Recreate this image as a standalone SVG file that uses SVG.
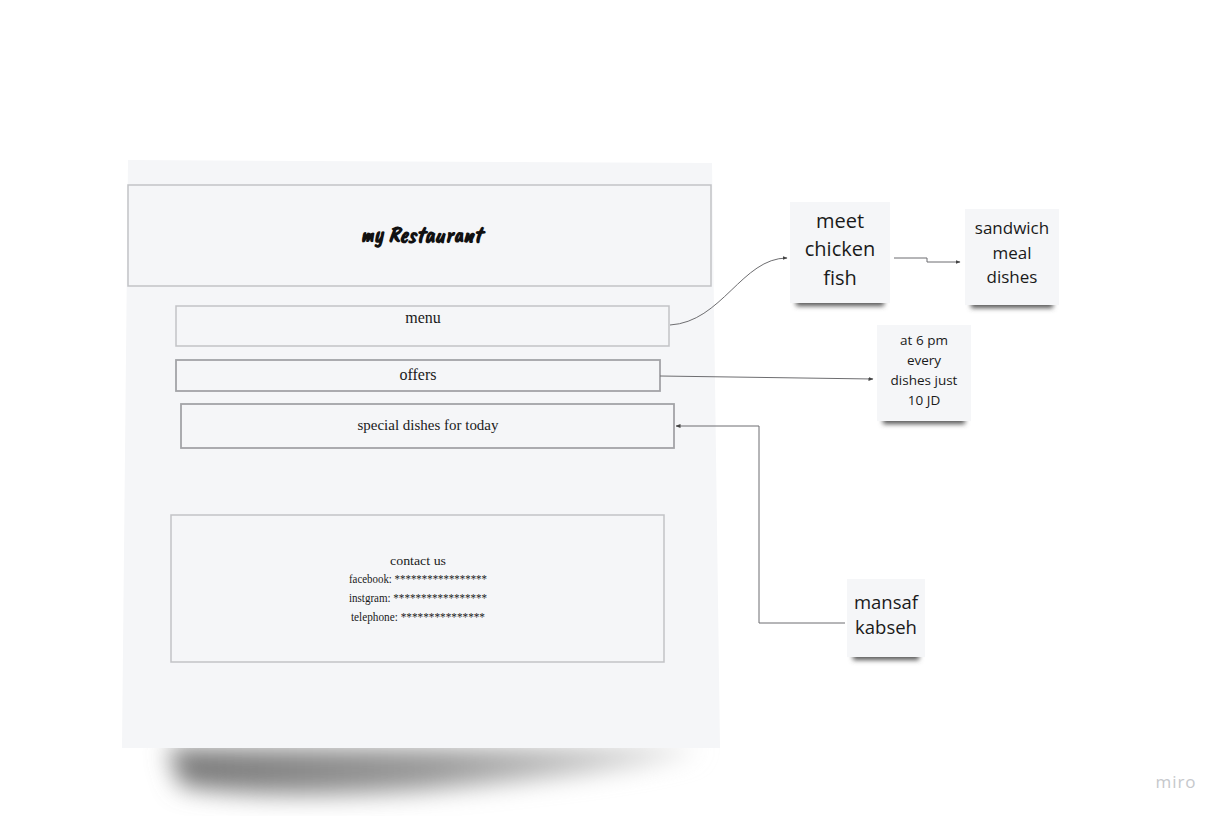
<svg xmlns="http://www.w3.org/2000/svg" width="1224" height="816" viewBox="0 0 1224 816">
<defs>
<style>
.box{fill:#f5f6f8;stroke:#c2c3c6;stroke-width:1.5}
.box2{fill:#f5f6f8;stroke:#a3a4a7;stroke-width:1.8}
.serif{font-family:"Liberation Serif","DejaVu Serif",serif;fill:#1a1a1a;text-anchor:middle}
.sans{font-family:"Open Sans","Noto Sans",sans-serif;fill:#1a1a1a;text-anchor:middle}
.sticky{fill:#f5f6f8}
.conn{fill:none;stroke:#6d6d70;stroke-width:1}
</style>
<marker id="arr" viewBox="0 0 10 10" refX="9" refY="5" markerWidth="5" markerHeight="5" orient="auto"><path d="M0,1 L10,5 L0,9 z" fill="#444"/></marker>
<filter id="blur" x="-20%" y="-80%" width="140%" height="260%"><feGaussianBlur stdDeviation="12"/></filter>
<filter id="blur2" x="-20%" y="-100%" width="140%" height="300%"><feGaussianBlur stdDeviation="2.5"/></filter>
<linearGradient id="sh" x1="0" y1="0" x2="1" y2="0"><stop offset="0" stop-color="#777"/><stop offset="0.5" stop-color="#999"/><stop offset="1" stop-color="#ddd"/></linearGradient>
</defs>
<rect width="1224" height="816" fill="#ffffff"/>

<g id="page">
<path d="M168,748 L700,748 Q650,770 420,790 Q260,800 180,785 Z" fill="url(#sh)" filter="url(#blur)"/>
<path d="M128,160 L712,163 L720,748 L122,748 Z" fill="#f5f6f8"/>
</g>

<g id="header">
<rect class="box" x="128" y="185" width="583" height="101"/>
<text x="421" y="242" style="font-family:'Caveat Brush','Caveat',cursive;font-style:italic;font-weight:bold;font-size:23px;fill:#111;text-anchor:middle">my Restaurant</text>
</g>
<g id="menu">
<rect class="box" x="176" y="306" width="493" height="40"/>
<text class="serif" x="423" y="323" font-size="16">menu</text>
</g>
<g id="offers">
<rect class="box2" x="176" y="360" width="484" height="31"/>
<text class="serif" x="418" y="380" font-size="16">offers</text>
</g>
<g id="special">
<rect class="box2" x="181" y="404" width="493" height="44"/>
<text class="serif" x="428" y="430" font-size="15.5" textLength="141" lengthAdjust="spacingAndGlyphs">special dishes for today</text>
</g>
<g id="contact">
<rect class="box" x="171" y="515" width="493" height="147"/>
<text class="serif" x="418" y="565" font-size="13.5" textLength="56" lengthAdjust="spacingAndGlyphs">contact us</text>
<text class="serif" x="418" y="583" font-size="13.5" textLength="138" lengthAdjust="spacingAndGlyphs">facebook: *****************</text>
<text class="serif" x="418" y="602" font-size="13.5" textLength="138" lengthAdjust="spacingAndGlyphs">instgram: *****************</text>
<text class="serif" x="418" y="621" font-size="13.5" textLength="134" lengthAdjust="spacingAndGlyphs">telephone: ***************</text>
</g>

<g id="sticky-meet">
<rect x="796" y="298" width="88" height="8" fill="#555" filter="url(#blur2)"/>
<rect class="sticky" x="790" y="202" width="100" height="101"/>
<text class="sans" x="840" y="228" font-size="20">meet</text>
<text class="sans" x="840" y="256" font-size="20">chicken</text>
<text class="sans" x="840" y="285" font-size="20">fish</text>
</g>
<g id="sticky-sandwich">
<rect x="971" y="300" width="82" height="8" fill="#555" filter="url(#blur2)"/>
<rect class="sticky" x="965" y="209" width="94" height="96"/>
<text class="sans" x="1012" y="234" font-size="17">sandwich</text>
<text class="sans" x="1012" y="259" font-size="17">meal</text>
<text class="sans" x="1012" y="283" font-size="17">dishes</text>
</g>
<g id="sticky-offer">
<rect x="883" y="416" width="82" height="8" fill="#555" filter="url(#blur2)"/>
<rect class="sticky" x="877" y="325" width="94" height="96"/>
<text class="sans" x="924" y="345" font-size="13.5">at 6 pm</text>
<text class="sans" x="924" y="365" font-size="13.5">every</text>
<text class="sans" x="924" y="385" font-size="13.5">dishes just</text>
<text class="sans" x="924" y="405" font-size="13.5">10 JD</text>
</g>
<g id="sticky-mansaf">
<rect x="853" y="652" width="66" height="8" fill="#555" filter="url(#blur2)"/>
<rect class="sticky" x="847" y="579" width="78" height="78"/>
<text class="sans" x="886" y="609" font-size="18.5">mansaf</text>
<text class="sans" x="886" y="634" font-size="18.5">kabseh</text>
</g>

<g id="connectors">
<path class="conn" d="M670,325 C722,322 742,258 787,258" marker-end="url(#arr)"/>
<path class="conn" d="M894,258 L927,258 L927,262 L960,262" marker-end="url(#arr)"/>
<path class="conn" d="M660,376 L873,379" marker-end="url(#arr)"/>
<path class="conn" d="M845,623 L759,623 L759,426 L676,426" marker-end="url(#arr)"/>
</g>

<text x="1176" y="788" style="font-family:'Open Sans',sans-serif;font-size:17px;fill:#c6c8cc;text-anchor:middle;letter-spacing:1px">miro</text>
</svg>
